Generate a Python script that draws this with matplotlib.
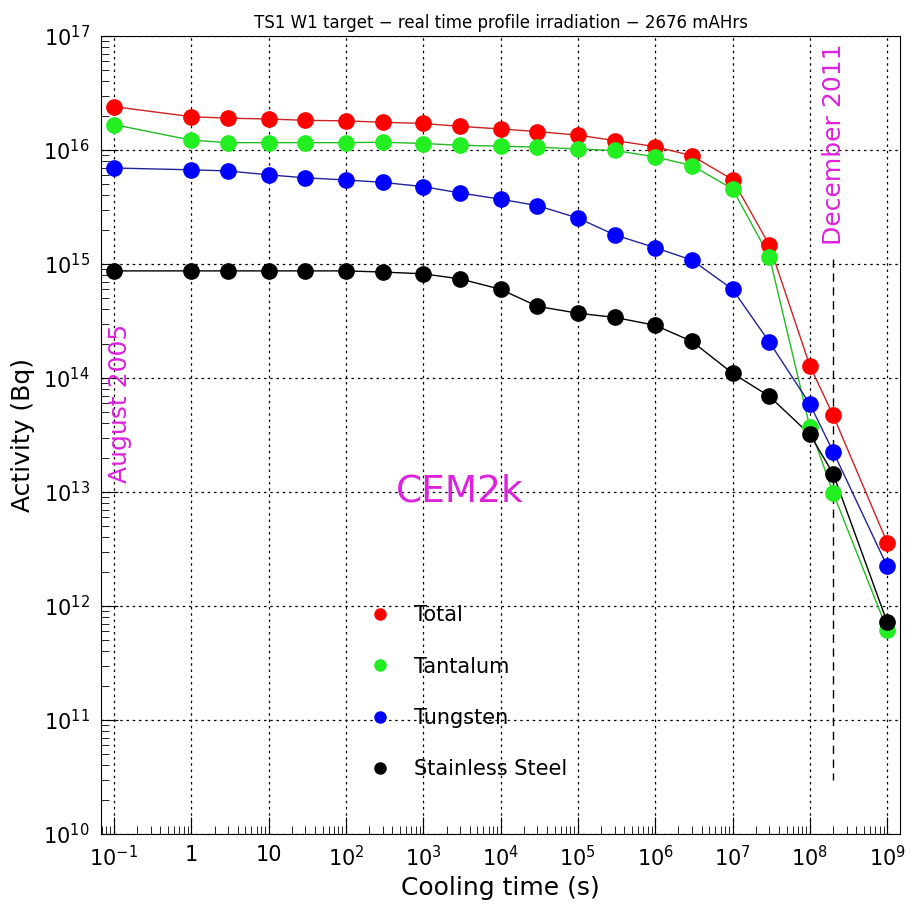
import numpy as np
import matplotlib.pyplot as plt
from matplotlib.lines import Line2D
from matplotlib.ticker import LogLocator, FixedLocator, FixedFormatter, NullFormatter

# cooling times (s)
t = [0.1, 1, 3, 10, 30, 100, 300, 1e3, 3e3, 1e4, 3e4, 1e5, 3e5, 1e6, 3e6,
     1e7, 3e7, 1e8, 2e8, 1e9]

# activities (Bq)
total = [2.4e16, 1.96e16, 1.9e16, 1.87e16, 1.82e16, 1.8e16, 1.75e16, 1.71e16,
         1.61e16, 1.53e16, 1.45e16, 1.35e16, 1.21e16, 1.07e16, 8.9e15,
         5.5e15, 1.46e15, 1.28e14, 4.7e13, 3.6e12]
tantalum = [1.67e16, 1.22e16, 1.16e16, 1.16e16, 1.16e16, 1.16e16, 1.17e16,
            1.14e16, 1.1e16, 1.08e16, 1.06e16, 1.02e16, 9.9e15, 8.7e15,
            7.3e15, 4.55e15, 1.16e15, 3.7e13, 9.8e12, 6.2e11]
tungsten = [6.95e15, 6.7e15, 6.55e15, 6.05e15, 5.7e15, 5.46e15, 5.2e15,
            4.77e15, 4.2e15, 3.7e15, 3.25e15, 2.53e15, 1.8e15, 1.39e15,
            1.08e15, 6.0e14, 2.06e14, 5.9e13, 2.26e13, 2.23e12]
steel = [8.7e14, 8.7e14, 8.7e14, 8.7e14, 8.7e14, 8.7e14, 8.5e14, 8.2e14,
         7.4e14, 6.0e14, 4.25e14, 3.7e14, 3.4e14, 2.9e14, 2.09e14, 1.1e14,
         6.9e13, 3.2e13, 1.45e13, 7.2e11]

labels = ["Total", "Tantalum", "Tungsten", "Stainless Steel"]
marker_colors = ["#ff0000", "#22ee22", "#0000ff", "#000000"]
line_colors = ["#cc2222", "#22bb22", "#222299", "#000000"]

xtick_vals = [1e-1, 1, 10, 1e2, 1e3, 1e4, 1e5, 1e6, 1e7, 1e8, 1e9]
xtick_labels = [r"$10^{-1}$", "1", "10", r"$10^{2}$", r"$10^{3}$", r"$10^{4}$",
                r"$10^{5}$", r"$10^{6}$", r"$10^{7}$", r"$10^{8}$", r"$10^{9}$"]
ytick_vals = [1e10, 1e11, 1e12, 1e13, 1e14, 1e15, 1e16, 1e17]
ytick_labels = [r"$10^{%d}$" % p for p in range(10, 18)]

fig = plt.figure(figsize=(9.12, 9.18), dpi=100)
ax = fig.add_axes([0.1107, 0.0915, 0.8763, 0.8693])

series = [total, tantalum, tungsten, steel]
for y, mc, lc in zip(series, marker_colors, line_colors):
    ax.plot(t, y, color=lc, lw=1.0, zorder=3)
    ax.plot(t, y, 'o', color=mc, ms=11, mec=mc, ls='none', zorder=4)

ax.set_xscale('log')
ax.set_yscale('log')
ax.set_xlim(0.068, 1.47e9)
ax.set_ylim(1e10, 1e17)

ax.xaxis.set_major_locator(FixedLocator(xtick_vals))
ax.xaxis.set_major_formatter(FixedFormatter(xtick_labels))
ax.xaxis.set_minor_locator(LogLocator(base=10, subs=np.arange(2, 10), numticks=30))
ax.xaxis.set_minor_formatter(NullFormatter())
ax.yaxis.set_major_locator(FixedLocator(ytick_vals))
ax.yaxis.set_major_formatter(FixedFormatter(ytick_labels))
ax.yaxis.set_minor_locator(LogLocator(base=10, subs=np.arange(2, 10), numticks=30))
ax.yaxis.set_minor_formatter(NullFormatter())

ax.tick_params(which='both', direction='in', top=False, right=False)
ax.tick_params(which='major', length=12, labelsize=15, pad=8)
ax.tick_params(which='minor', length=6)
ax.grid(True, which='major', color='black', ls=(0, (2, 3)), lw=0.9)

ax.set_title("TS1 W1 target \u2212 real time profile irradiation \u2212 2676 mAHrs",
             fontsize=12, pad=6)
ax.set_xlabel("Cooling time (s)", fontsize=18, labelpad=4)
ax.set_ylabel("Activity (Bq)", fontsize=18, labelpad=6)

# annotations
ax.text(0.12, 10**13.78, "August 2005", rotation=90, color='#dd22dd',
        fontsize=18, ha='center', va='center')
ax.text(2.05e8, 10**16.05, "December 2011", rotation=90, color='#dd22dd',
        fontsize=18, ha='center', va='center')
ax.plot([2e8, 2e8], [1.1e15, 3e10], color='black', ls=(0, (6, 4)), lw=1.0)
ax.text(3e3, 1e13, "CEM2k", color='#dd22dd', fontsize=27, ha='center', va='center')

handles = [Line2D([], [], marker='o', ls='none', color=c, ms=8) for c in marker_colors]
ax.legend(handles, labels, loc='upper left', bbox_to_anchor=(0.30, 0.31),
          frameon=False, fontsize=15, labelspacing=1.5, handletextpad=0.6)

fig.savefig("out.png", dpi=100)
